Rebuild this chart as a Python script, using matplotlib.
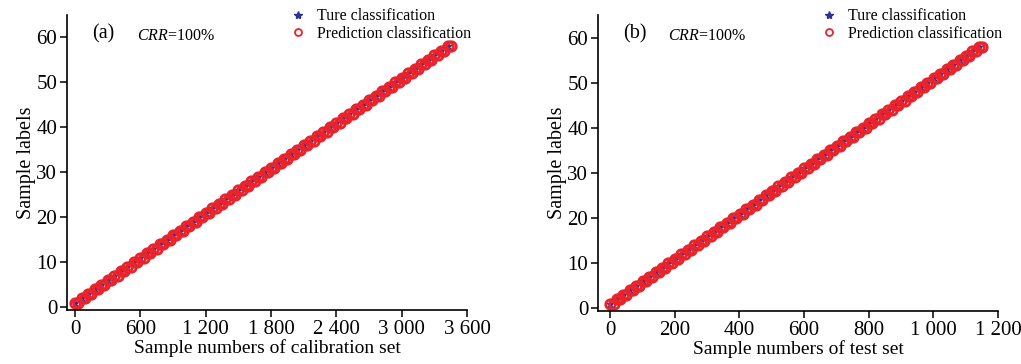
import numpy as np
import matplotlib
matplotlib.use("Agg")
import matplotlib.pyplot as plt
from matplotlib.ticker import FuncFormatter, FixedLocator

# ---- data ----
n_classes = 58
cal_per_class = 60
test_per_class = 20
class_ids = np.arange(1, n_classes + 1)

cal_true = np.repeat(class_ids, cal_per_class)
cal_pred = cal_true.copy()          # CRR = 100 %
cal_idx = np.arange(1, cal_true.size + 1)

test_true = np.repeat(class_ids, test_per_class)
test_pred = test_true.copy()        # CRR = 100 %
test_idx = np.arange(1, test_true.size + 1)

cal_xticks = [0, 600, 1200, 1800, 2400, 3000, 3600]
test_xticks = [0, 200, 400, 600, 800, 1000, 1200]
yticks = [0, 10, 20, 30, 40, 50, 60]

panel_labels = ["(a)", "(b)"]
crr_values = ["100%", "100%"]
xlabels = ["Sample numbers of calibration set", "Sample numbers of test set"]
legend_labels = ["Ture classification", "Prediction classification"]

# ---- style ----
plt.rcParams['font.family'] = ['Liberation Serif', 'DejaVu Serif']
plt.rcParams['mathtext.fontset'] = 'custom'
plt.rcParams['mathtext.rm'] = 'Liberation Serif'
plt.rcParams['mathtext.it'] = 'Liberation Serif:italic'
RED = '#E8232B'
BLUE = '#2E3192'

fig = plt.figure(figsize=(10.21, 3.64), dpi=100)
ax1 = fig.add_axes([67/1021, 1-310/364, 400/1021, 295/364])
ax2 = fig.add_axes([598/1021, 1-311/364, 400/1021, 296/364])

fmt = FuncFormatter(lambda v, p: f"{int(v):,}".replace(",", " "))

def draw(ax, idx, ytrue, ypred, per_class, xticks, xlim, lab, crr, xlabel):
    ax.plot(idx, ytrue, linestyle='none', marker='*', color=BLUE,
            markersize=4.5, markevery=per_class, label=legend_labels[0])
    ax.plot(idx, ypred, linestyle='none', marker='o', markerfacecolor='none',
            markeredgecolor=RED, markersize=6.8, markeredgewidth=2.0,
            markevery=per_class // 2, label=legend_labels[1])
    ax.set_xlim(*xlim)
    ax.set_ylim(-0.6, 65)
    ax.xaxis.set_major_locator(FixedLocator(xticks))
    ax.xaxis.set_major_formatter(fmt)
    ax.yaxis.set_major_locator(FixedLocator(yticks))
    for s in ['top', 'right']:
        ax.spines[s].set_visible(False)
    for s in ['left', 'bottom']:
        ax.spines[s].set_linewidth(1.2)
    ax.spines['bottom'].set_bounds(xlim[0], xticks[-1])
    ax.tick_params(direction='out', length=5, width=1.1, labelsize=15, pad=2)
    ax.set_xlabel(xlabel, fontsize=14, labelpad=0)
    ax.set_ylabel("Sample labels", fontsize=14.5, labelpad=0)
    ax.text(0.062, 0.935, lab, transform=ax.transAxes, fontsize=14.5,
            ha='left', va='center')
    ax.text(0.175, 0.93, "$\\mathit{CRR}$=" + crr, transform=ax.transAxes,
            fontsize=11.5, ha='left', va='center')
    leg = ax.legend(loc='upper right', bbox_to_anchor=(1.035, 1.055), frameon=False,
                    fontsize=11.5, handlelength=1.0, handletextpad=0.7,
                    labelspacing=0.1, borderaxespad=0.2)
    h = leg.legend_handles
    h[0].set_markersize(6)
    h[1].set_markersize(5)
    h[1].set_markeredgewidth(1.3)

draw(ax1, cal_idx, cal_true, cal_pred, cal_per_class, cal_xticks, (-73, 3600),
     panel_labels[0], crr_values[0], xlabels[0])
draw(ax2, test_idx, test_true, test_pred, test_per_class, test_xticks, (-37, 1200),
     panel_labels[1], crr_values[1], xlabels[1])

fig.savefig("out.png", dpi=100)
